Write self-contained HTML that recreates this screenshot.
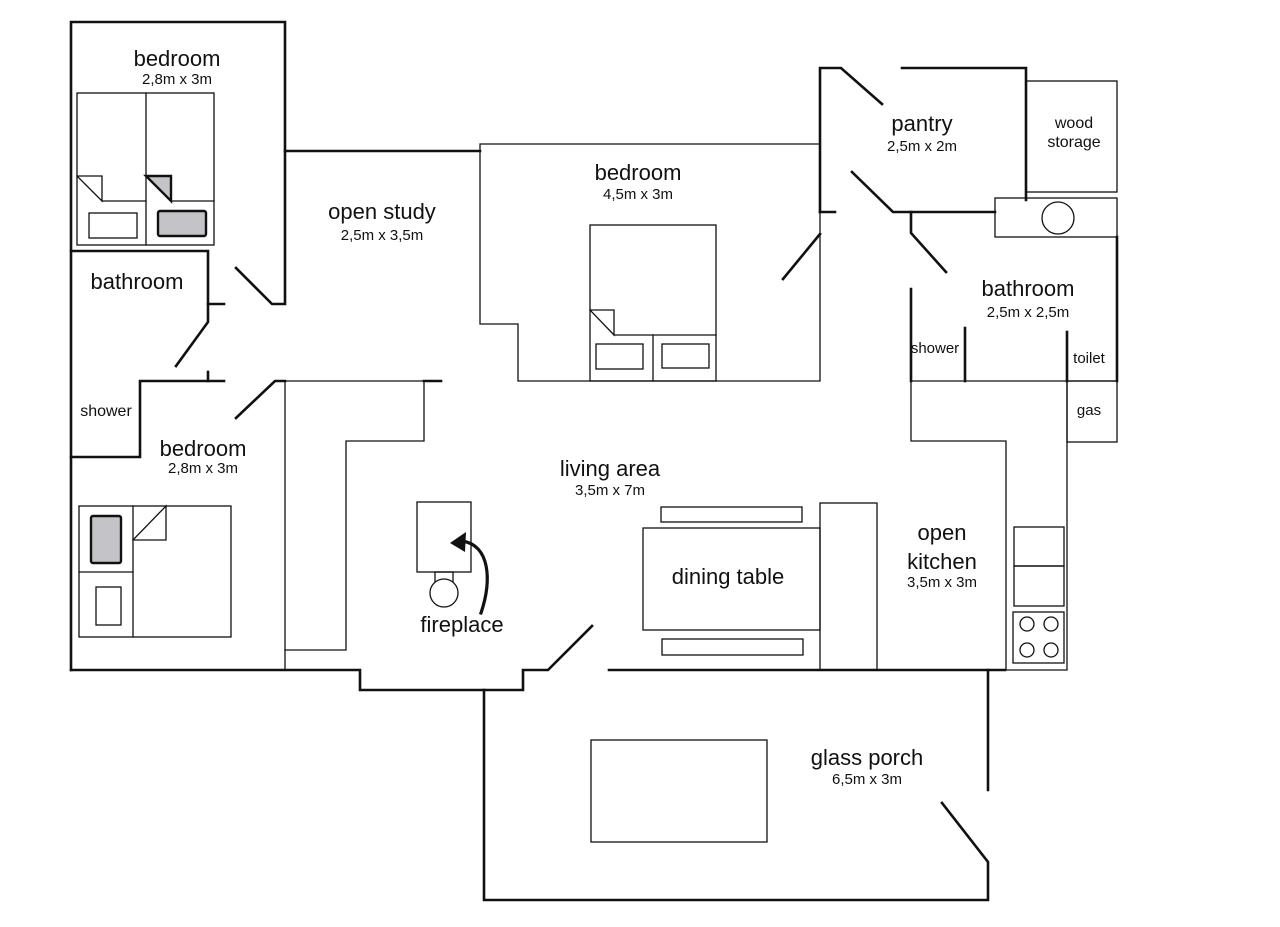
<!DOCTYPE html>
<html><head><meta charset="utf-8"><style>
html,body{margin:0;padding:0;background:#fff;}
svg{display:block;}
text{font-family:"Liberation Sans",sans-serif;fill:#111;text-anchor:middle;}
.b{font-size:22px;}
.s{font-size:15px;}
.m{font-size:16px;}
</style></head><body>
<svg width="1280" height="927" viewBox="0 0 1280 927" xmlns="http://www.w3.org/2000/svg">
<g fill="none" stroke="#111" stroke-linecap="square">
<!-- thick walls -->
<g stroke-width="2.6">
<polyline points="71,670 71,22 285,22 285,304 272,304 236,268"/>
<line x1="285" y1="151" x2="480" y2="151"/>
<polyline points="71,251 208,251 208,322 176,366"/>
<line x1="208" y1="304" x2="224" y2="304"/>
<line x1="208" y1="372" x2="208" y2="381"/>
<polyline points="224,381 140,381 140,457 71,457"/>
<polyline points="236,418 275,381 285,381"/>
<polyline points="71,670 360,670 360,690 523,690 523,670 548,670 592,626"/>
<line x1="609" y1="670" x2="1005" y2="670"/>
<line x1="424" y1="381" x2="441" y2="381"/>
<polyline points="820,212 820,68 841,68 882,104"/>
<line x1="820" y1="212" x2="835" y2="212"/>
<line x1="820" y1="234" x2="783" y2="279"/>
<polyline points="902,68 1026,68 1026,200"/>
<polyline points="852,172 893,212 995,212"/>
<polyline points="911,212 911,233 946,272"/>
<line x1="911" y1="289" x2="911" y2="381"/>
<line x1="965" y1="328" x2="965" y2="381"/>
<line x1="1067" y1="332" x2="1067" y2="381"/>
<line x1="1117" y1="237" x2="1117" y2="381"/>
<polyline points="484,690 484,900 988,900 988,862 942,803"/>
<line x1="988" y1="670" x2="988" y2="790"/>
</g>
<!-- thin lines -->
<g stroke-width="1.3">
<rect x="77" y="93" width="137" height="152"/>
<line x1="146" y1="93" x2="146" y2="245"/>
<polyline points="77,176 102,176 102,201 77,176"/>
<line x1="102" y1="201" x2="146" y2="201"/>
<rect x="89" y="213" width="48" height="25"/>
<line x1="171" y1="201" x2="214" y2="201"/>
<polyline points="285,381 285,670"/>
<polyline points="285,381 424,381 424,441 346,441 346,650 285,650"/>
<rect x="79" y="506" width="152" height="131"/>
<line x1="133" y1="506" x2="133" y2="637"/>
<line x1="79" y1="572" x2="133" y2="572"/>
<polyline points="133,540 166,506 166,540 133,540"/>
<rect x="96" y="587" width="25" height="38"/>
<rect x="417" y="502" width="54" height="70"/>
<rect x="435" y="572" width="18" height="10"/>
<circle cx="444" cy="593" r="14" fill="#fff"/>
<polyline points="480,144 820,144 820,381 518,381 518,324 480,324 480,144"/>
<rect x="590" y="225" width="126" height="156"/>
<polyline points="590,310 614,310 614,335 590,310"/>
<line x1="614" y1="335" x2="716" y2="335"/>
<line x1="653" y1="335" x2="653" y2="381"/>
<rect x="596" y="344" width="47" height="25"/>
<rect x="662" y="344" width="47" height="24"/>
<rect x="1026" y="81" width="91" height="111"/>
<rect x="995" y="198" width="122" height="39"/>
<circle cx="1058" cy="218" r="16"/>
<line x1="911" y1="381" x2="1117" y2="381"/>
<rect x="1067" y="381" width="50" height="61"/>
<polyline points="911,381 911,441 1006,441 1006,670 1067,670 1067,381"/>
<rect x="1014" y="527" width="50" height="39"/>
<rect x="1014" y="566" width="50" height="40"/>
<rect x="1013" y="612" width="51" height="51"/>
<circle cx="1027" cy="624" r="7"/><circle cx="1051" cy="624" r="7"/>
<circle cx="1027" cy="650" r="7"/><circle cx="1051" cy="650" r="7"/>
<rect x="661" y="507" width="141" height="15"/>
<rect x="643" y="528" width="177" height="102"/>
<rect x="662" y="639" width="141" height="16"/>
<rect x="820" y="503" width="57" height="167"/>
<rect x="591" y="740" width="176" height="102"/>
</g>
<!-- gray items -->
<g stroke-width="2.4" fill="#c4c4c8">
<polygon points="146,176 171,176 171,201"/>
<rect x="158" y="211" width="48" height="25" rx="2"/>
<rect x="91" y="516" width="30" height="47" rx="2"/>
</g>
<!-- arrow -->
<path d="M481,613 C492,580 490,545 462,541" stroke-width="3.2"/>
</g>
<polygon points="450,543 466,532 465,552" fill="#111"/>
<text class="b" x="177" y="66">bedroom</text><text class="s" x="177" y="84">2,8m x 3m</text>
<text class="b" x="137" y="289">bathroom</text>
<text class="m" x="106" y="416">shower</text>
<text class="b" x="203" y="456">bedroom</text><text class="s" x="203" y="473">2,8m x 3m</text>
<text class="b" x="382" y="219">open study</text><text class="s" x="382" y="240">2,5m x 3,5m</text>
<text class="b" x="638" y="180">bedroom</text><text class="s" x="638" y="199">4,5m x 3m</text>
<text class="b" x="922" y="131">pantry</text><text class="s" x="922" y="151">2,5m x 2m</text>
<text class="m" x="1074" y="128">wood</text><text class="m" x="1074" y="147">storage</text>
<text class="b" x="1028" y="296">bathroom</text><text class="s" x="1028" y="317">2,5m x 2,5m</text>
<text class="s" x="935" y="353">shower</text>
<text class="s" x="1089" y="363">toilet</text>
<text class="s" x="1089" y="415">gas</text>
<text class="b" x="610" y="476">living area</text><text class="s" x="610" y="495">3,5m x 7m</text>
<text class="b" x="462" y="632">fireplace</text>
<text class="b" x="728" y="584">dining table</text>
<text class="b" x="942" y="540">open</text><text class="b" x="942" y="569">kitchen</text><text class="s" x="942" y="587">3,5m x 3m</text>
<text class="b" x="867" y="765">glass porch</text><text class="s" x="867" y="784">6,5m x 3m</text>
</svg>
</body></html>
